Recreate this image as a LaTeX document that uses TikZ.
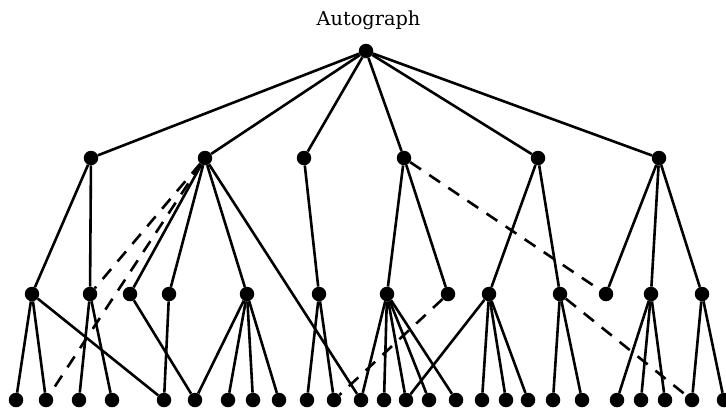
\documentclass[tikz,border=0pt]{standalone}
\usepackage{fontspec}
\newfontfamily\titlefont{DejaVu Serif}
\begin{document}
\begin{tikzpicture}[x=1pt,y=-1pt,
  dot/.style={circle,fill=black,inner sep=0pt,minimum size=14.5pt},
  edge/.style={line width=2.6pt},
  dedge/.style={line width=2.6pt,dash pattern=on 13pt off 10pt},
  title/.style={font=\titlefont\fontsize{19.3}{23}\selectfont,anchor=base,inner sep=0pt}]
\useasboundingbox (0,0) rectangle (726,413);
\node[title] (t) at (368.5,25.8) {Autograph};
\node[dot] (r) at (366,51) {};
% level 1
\foreach \n/\x in {A/91,B/205,C/304,D/404,E/538,F/659}
  \node[dot] (\n) at (\x,158) {};
% level 2
\foreach \n/\x in {a1/32,a2/90,b1/130,b2/169,b3/247,c1/319,d1/387,d2/448,e1/489,e2/560,f1/606,f2/651,f3/702}
  \node[dot] (\n) at (\x,294) {};
% leaves
\foreach \n/\x in {1/16,2/46,3/79,4/112,5/164,6/195,7/228,8/253,9/279,10/307,11/334,12/361,13/384,14/406,15/429,16/456,17/482,18/506,19/528,20/553,21/582,22/617,23/641,24/665,25/692,26/724}
  \node[dot] (l\n) at (\x,400) {};
% edges
\foreach \c in {A,B,C,D,E,F} \draw[edge] (r) -- (\c);
\foreach \c in {a1,a2} \draw[edge] (A) -- (\c);
\foreach \c in {b1,b2,b3,l12} \draw[edge] (B) -- (\c);
\draw[dedge] (B) -- (a2);
\draw[dedge] (B) -- (l2);
\draw[edge] (C) -- (c1);
\foreach \c in {d1,d2} \draw[edge] (D) -- (\c);
\draw[dedge] (D) -- (f1);
\foreach \c in {e1,e2} \draw[edge] (E) -- (\c);
\foreach \c in {f1,f2,f3} \draw[edge] (F) -- (\c);
\foreach \c in {l1,l2,l5} \draw[edge] (a1) -- (\c);
\foreach \c in {l3,l4} \draw[edge] (a2) -- (\c);
\draw[edge] (b1) -- (l6);
\draw[edge] (b2) -- (l5);
\foreach \c in {l6,l7,l8,l9} \draw[edge] (b3) -- (\c);
\foreach \c in {l10,l11} \draw[edge] (c1) -- (\c);
\foreach \c in {l12,l13,l14,l15,l16} \draw[edge] (d1) -- (\c);
\draw[dedge] (d2) -- (l11);
\foreach \c in {l14,l17,l18,l19} \draw[edge] (e1) -- (\c);
\foreach \c in {l20,l21} \draw[edge] (e2) -- (\c);
\draw[dedge] (e2) -- (l25);
\foreach \c in {l22,l23,l24} \draw[edge] (f2) -- (\c);
\foreach \c in {l25,l26} \draw[edge] (f3) -- (\c);
\end{tikzpicture}
\end{document}
